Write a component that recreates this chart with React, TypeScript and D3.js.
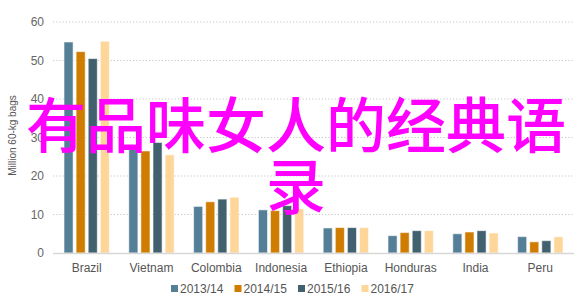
import React from "react";
import * as d3 from "d3";

const categories = ["Brazil", "Vietnam", "Colombia", "Indonesia", "Ethiopia", "Honduras", "India", "Peru"];
const seriesNames = ["2013/14", "2014/15", "2015/16", "2016/17"];
const s2013 = [54.8, 27.5, 12.1, 11.2, 6.5, 4.5, 5.0, 4.25];
const s2014 = [52.3, 26.5, 13.3, 11.0, 6.6, 5.3, 5.45, 2.9];
const s2015 = [50.5, 28.7, 14.0, 12.3, 6.6, 5.8, 5.8, 3.2];
const s2016 = [55.0, 25.5, 14.5, 11.5, 6.6, 5.8, 5.2, 4.2];
const yTicks = [0, 10, 20, 30, 40, 50, 60];
const colors = ["#557f97", "#cf7c00", "#42616f", "#ffd699"];
const overlayLines = ["有品味女人的经典语", "录"];

export default function App() {
  const W = 588, H = 301;
  const x0 = d3.scaleBand<string>().domain(categories).range([53, 574]).paddingInner(0.3).paddingOuter(0.17);
  const x1 = d3.scaleBand<string>().domain(seriesNames).range([0, x0.bandwidth()]).paddingInner(0.25);
  const y = d3.scaleLinear().domain([0, 60]).range([253, 22]);
  const series = [s2013, s2014, s2015, s2016];
  const font = "Liberation Sans, Arial, sans-serif";
  const legendX = d3.scaleLinear().domain([0, 1]).range([171, 234.5]);

  return (
    <svg width={W} height={H} style={{ position: "absolute", left: 0, top: 0 }} fontFamily={font}>
      <rect width={W} height={H} fill="#fff" />
      {yTicks.filter(t => t > 0).map(t => (
        <line key={t} x1={53} x2={574} y1={y(t)} y2={y(t)} stroke="#c8c8c8" strokeWidth={1.2} strokeDasharray="1.2,2" />
      ))}
      {yTicks.map(t => (
        <text key={"l" + t} x={44} y={y(t)} dy="0.35em" textAnchor="end" fontSize={12} fill="#666">{t}</text>
      ))}
      <text transform={`translate(16,${y(30) - 2}) rotate(-90)`} textAnchor="middle" fontSize={10} fill="#555">Million 60-kg bags</text>
      {categories.map((c, ci) => (
        <g key={c} transform={`translate(${x0(c)},0)`}>
          {series.map((s, si) => (
            <rect key={si} x={x1(seriesNames[si])} y={y(s[ci])} width={x1.bandwidth()} height={y(0) - y(s[ci])}
              fill={colors[si]} stroke="rgba(255,255,255,0.55)" strokeWidth={1} />
          ))}
        </g>
      ))}
      <line x1={53} x2={574} y1={y(0) + 0.5} y2={y(0) + 0.5} stroke="#d8d8d8" strokeWidth={1.5} />
      {categories.map(c => (
        <text key={"c" + c} x={(x0(c) as number) + x0.bandwidth() / 2} y={268} dy="0.35em" textAnchor="middle" fontSize={12} fill="#555">{c}</text>
      ))}
      {seriesNames.map((n, i) => (
        <g key={n} transform={`translate(${legendX(i)},0)`}>
          <rect x={0} y={285} width={7} height={7} fill={colors[i]} />
          <text x={9} y={289} dy="0.35em" fontSize={12} fill="#555">{n}</text>
        </g>
      ))}
      {overlayLines.map((l, i) => (
        <text key={i} x={296} y={127 + i * 61} dy="0.35em" textAnchor="middle" fontSize={60} fontWeight={500}
          fontFamily="Noto Sans CJK SC" fill="#ff00ff">{l}</text>
      ))}
    </svg>
  );
}
